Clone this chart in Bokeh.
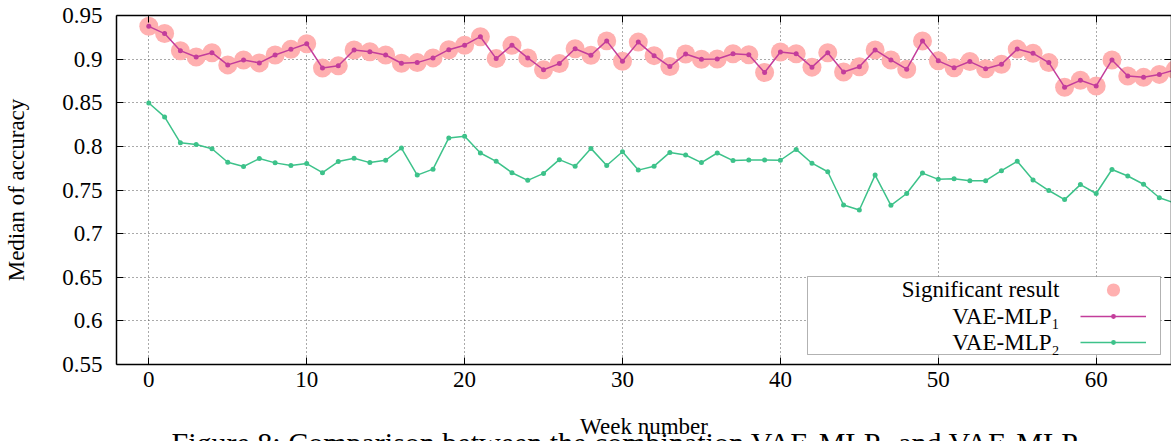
from bokeh.plotting import figure
from bokeh.layouts import column
from bokeh.models import (FixedTicker, LinearAxis, Range1d, Legend, LegendItem,
                          Label, BoxAnnotation, ColumnDataSource, Div)
from bokeh.core.properties import value
from bokeh.embed import file_html
from bokeh.resources import INLINE

# ---------------- data ----------------
weeks = list(range(66))
vae_mlp1 = [0.9376, 0.9293, 0.9097, 0.9025, 0.9074, 0.8934, 0.8991, 0.8957, 0.9047, 0.9112,
            0.9176, 0.8897, 0.8923, 0.9104, 0.9085, 0.9047, 0.8953, 0.8960, 0.9014, 0.9108,
            0.9160, 0.9257, 0.9006, 0.9160, 0.9014, 0.8878, 0.8949, 0.9119, 0.9044, 0.9209,
            0.8976, 0.9195, 0.9040, 0.8915, 0.9059, 0.8999, 0.9002, 0.9062, 0.9051, 0.8847,
            0.9081, 0.9062, 0.8908, 0.9074, 0.8852, 0.8912, 0.9106, 0.8991, 0.8885, 0.9209,
            0.8980, 0.8900, 0.8972, 0.8889, 0.8942, 0.9115, 0.9067, 0.8960, 0.8678, 0.8757,
            0.8693, 0.8991, 0.8807, 0.8791, 0.8825, 0.8878]
vae_mlp2 = [0.8497, 0.8338, 0.8041, 0.8022, 0.7973, 0.7818, 0.7769, 0.7860, 0.7811, 0.7781,
            0.7803, 0.7698, 0.7826, 0.7863, 0.7814, 0.7841, 0.7981, 0.7671, 0.7739, 0.8097,
            0.8116, 0.7924, 0.7829, 0.7698, 0.7611, 0.7690, 0.7848, 0.7773, 0.7977, 0.7781,
            0.7939, 0.7728, 0.7773, 0.7931, 0.7901, 0.7814, 0.7924, 0.7837, 0.7845, 0.7845,
            0.7841, 0.7965, 0.7807, 0.7709, 0.7328, 0.7271, 0.7671, 0.7324, 0.7460, 0.7694,
            0.7622, 0.7630, 0.7607, 0.7607, 0.7721, 0.7829, 0.7614, 0.7494, 0.7390, 0.7562,
            0.7460, 0.7735, 0.7660, 0.7566, 0.7411, 0.7349]
significant = [1, 1, 1, 1, 1, 1, 1, 1, 1, 1, 1, 1, 1, 1, 1, 1, 1, 1, 1, 1, 1, 1,
               1, 1, 1, 1, 1, 1, 1, 1, 1, 1, 1, 1, 1, 1, 1, 1, 1, 1, 1, 1, 1, 1,
               1, 1, 1, 1, 1, 1, 1, 1, 1, 1, 1, 1, 1, 1, 1, 1, 1, 1, 1, 1, 1, 1]

x_ticks = [0, 10, 20, 30, 40, 50, 60]
y_ticks = [0.55, 0.6, 0.65, 0.7, 0.75, 0.8, 0.85, 0.9, 0.95]
y_tick_labels = ["0.55", "0.6", "0.65", "0.7", "0.75", "0.8", "0.85", "0.9", "0.95"]

legend_texts = ["Significant result", "VAE-MLP\u2081", "VAE-MLP\u2082"]
x_title = "Week number"
y_title = "Median of accuracy"
caption = "Figure 8: Comparison between the combination VAE-MLP\u2081 and VAE-MLP\u2082"

# ---------------- style ----------------
FONT = "Liberation Serif"
PINK = "#c33d9b"
PINK_BG = "#ffb0b0"
GREEN = "#3dc28a"

p = figure(width=1171, height=441, output_backend="svg", toolbar_location=None,
           x_range=Range1d(-2.046, 64.77), y_range=Range1d(0.55, 0.95),
           min_border_left=116, min_border_right=0, min_border_top=15,
           min_border_bottom=73)
p.outline_line_color = None
p.background_fill_color = "white"
p.border_fill_color = "white"

p.xaxis.ticker = FixedTicker(ticks=x_ticks)
p.yaxis.ticker = FixedTicker(ticks=y_ticks)
p.yaxis.major_label_overrides = dict(zip(y_ticks, y_tick_labels))
p.xaxis.axis_label = x_title
p.yaxis.axis_label = y_title

for ax in p.axis:
    ax.axis_line_color = "black"
    ax.axis_line_width = 1.5
    ax.major_tick_in = 7
    ax.major_tick_out = 0
    ax.minor_tick_in = 0
    ax.minor_tick_out = 0
    ax.major_tick_line_width = 1
    ax.major_label_text_font = FONT
    ax.major_label_text_font_size = "23px"
    ax.major_label_text_color = "black"
    ax.axis_label_text_font = FONT
    ax.axis_label_text_font_size = "23px"
    ax.axis_label_text_font_style = "normal"
    ax.axis_label_text_color = "black"
p.yaxis.major_label_standoff = 14
p.yaxis.axis_label_standoff = 30
p.xaxis.major_label_standoff = 7
p.xaxis.axis_label_standoff = 24

for ticks, place in ((x_ticks, "above"), (y_ticks, "right")):
    ax = LinearAxis(ticker=FixedTicker(ticks=ticks),
                    major_label_overrides={t: "" for t in ticks},
                    major_label_text_font_size="0px", major_label_standoff=0,
                    axis_line_color="black", axis_line_width=1.5,
                    major_tick_in=7, major_tick_out=0, minor_tick_in=0, minor_tick_out=0)
    p.add_layout(ax, place)

p.grid.grid_line_color = "#555555"
p.grid.grid_line_dash = "1 3"
p.grid.grid_line_width = 1

src = ColumnDataSource(dict(week=weeks, v1=vae_mlp1, v2=vae_mlp2))
sig_src = ColumnDataSource(dict(
    week=[w for w, s in zip(weeks, significant) if s],
    val=[v for v, s in zip(vae_mlp1, significant) if s]))

r_sig = p.scatter("week", "val", source=sig_src, size=19, fill_color=PINK_BG,
                  line_color=None)
r1_line = p.line("week", "v1", source=src, line_color=PINK, line_width=1.5)
r1_dot = p.scatter("week", "v1", source=src, size=5, fill_color=PINK, line_color=None)
r2_line = p.line("week", "v2", source=src, line_color=GREEN, line_width=1.5)
r2_dot = p.scatter("week", "v2", source=src, size=5, fill_color=GREEN, line_color=None)

# ---------------- legend (text left, glyph right) ----------------
box = BoxAnnotation(left=691, right=1044, bottom=10, top=88,
                    left_units="screen", right_units="screen",
                    top_units="screen", bottom_units="screen",
                    fill_color="white", fill_alpha=1.0,
                    line_color="black", line_width=1)
p.add_layout(box)

for txt, yy in zip(legend_texts, [75, 48, 22]):
    p.add_layout(Label(x=943, y=yy, x_units="screen", y_units="screen", text=txt,
                       text_align="right", text_baseline="middle",
                       text_font=FONT, text_font_size="23px", text_color="black"))

common = dict(glyph_width=66, label_width=0, label_height=0, label_standoff=0,
              padding=0, margin=0, border_line_color=None, background_fill_alpha=0,
              label_text_font_size="0px")
leg_a = Legend(items=[LegendItem(label=value(" "), renderers=[r_sig])],
               location=(964, 58), glyph_height=33, spacing=0, **common)
leg_b = Legend(items=[LegendItem(label=value(" "), renderers=[r1_line, r1_dot]),
                      LegendItem(label=value(" "), renderers=[r2_line, r2_dot])],
               location=(964, 16), glyph_height=12, spacing=14, **common)
p.add_layout(leg_a)
p.add_layout(leg_b)

# caption below the chart, cut off by the window edge as in the reference
cap = Div(text=caption, width=1082, height=13, margin=(-13, 0, 0, 89),
          styles={"overflow": "hidden", "font-family": FONT, "font-size": "30px",
                  "text-align": "center", "line-height": "1", "white-space": "nowrap",
                  "color": "black", "background": "transparent"})

layout = column(p, cap, spacing=0)
open("out.html", "w").write(file_html(layout, INLINE))
